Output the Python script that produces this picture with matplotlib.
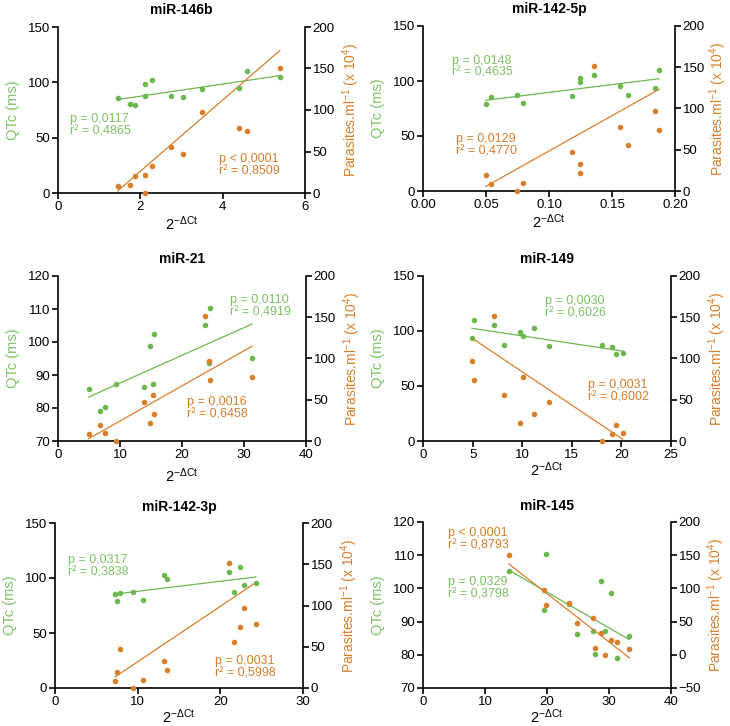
import numpy as np
import matplotlib
matplotlib.use("Agg")
import matplotlib.pyplot as plt

plt.rcParams['font.family'] = ['Liberation Sans', 'DejaVu Sans']
plt.rcParams['mathtext.fontset'] = 'custom'
plt.rcParams['mathtext.rm'] = 'Liberation Sans'
plt.rcParams['mathtext.it'] = 'Liberation Sans'
plt.rcParams['mathtext.bf'] = 'Liberation Sans:bold'

GREEN = '#6cb84f'
GREEN_TXT = '#7dc265'
ORANGE = '#d97f2a'

titles = ['miR-146b', 'miR-142-5p', 'miR-21', 'miR-149', 'miR-142-3p', 'miR-145']

# 2^-dCt per panel (same 12 patients in each panel)
x_146b = [1.45, 1.76, 1.88, 2.11, 2.11, 2.29, 2.75, 3.03, 3.50, 4.40, 4.58, 5.39]
qtc_146b = [85.7, 80.3, 79.1, 87.2, 98.7, 102.3, 87.2, 86.3, 93.6, 95.3, 110.4, 105.2]
par_146b = [8, 10, 20, 0.4, 22, 33, 56, 47.5, 97, 78, 74.5, 151]

x_1425p = [0.0499, 0.0542, 0.0745, 0.0795, 0.1181, 0.1247, 0.1247, 0.1355, 0.1561, 0.1625, 0.1841, 0.1873]
qtc_1425p = [79.1, 85.7, 87.2, 80.3, 86.3, 102.3, 98.7, 105.2, 95.3, 87.2, 93.6, 110.4]
par_1425p = [20, 8, 0.4, 10, 47.5, 33, 22, 151, 78, 56, 97, 74.5]

x_21 = [4.94, 6.77, 7.57, 9.29, 13.85, 14.82, 15.25, 15.46, 23.79, 24.43, 24.54, 31.30]
qtc_21 = [85.7, 79.1, 80.3, 87.2, 86.3, 98.7, 87.2, 102.3, 105.2, 93.6, 110.4, 95.3]
par_21 = [8, 20, 10, 0.4, 47.5, 22, 56, 33, 151, 97, 74.5, 78]

x_149 = [4.93, 5.10, 7.18, 8.19, 9.80, 10.13, 11.21, 12.68, 18.09, 19.06, 19.50, 20.13]
qtc_149 = [93.6, 110.4, 105.2, 87.2, 98.7, 95.3, 102.3, 86.3, 87.2, 85.7, 79.1, 80.3]
par_149 = [97, 74.5, 151, 56, 22, 78, 33, 47.5, 0.4, 8, 20, 10]

x_1423p = [7.29, 7.49, 7.85, 9.42, 10.67, 13.21, 13.53, 21.06, 21.63, 22.43, 22.92, 24.29]
qtc_1423p = [85.7, 79.1, 86.3, 87.2, 80.3, 102.3, 98.7, 105.2, 87.2, 110.4, 93.6, 95.3]
par_1423p = [8, 20, 47.5, 0.4, 10, 33, 22, 151, 56, 74.5, 97, 78]

x_145 = [13.85, 19.54, 19.76, 23.62, 24.86, 27.38, 27.76, 28.78, 29.32, 30.28, 31.36, 33.29]
qtc_145 = [105.2, 93.6, 110.4, 95.3, 86.3, 87.2, 80.3, 102.3, 87.2, 98.7, 79.1, 85.7]
par_145 = [151, 97, 74.5, 78, 47.5, 56, 10, 33, 0.4, 22, 20, 8]

stats_qtc = [('p = 0,0117', 'r² = 0,4865'), ('p = 0,0148', 'r² = 0,4635'),
             ('p = 0,0110', 'r² = 0,4919'), ('p = 0,0030', 'r² = 0,6026'),
             ('p = 0,0317', 'r² = 0,3838'), ('p = 0,0329', 'r² = 0,3798')]
stats_par = [('p < 0,0001', 'r² = 0,8509'), ('p = 0,0129', 'r² = 0,4770'),
             ('p = 0,0016', 'r² = 0,6458'), ('p = 0,0031', 'r² = 0,6002'),
             ('p = 0,0031', 'r² = 0,5998'), ('p < 0,0001', 'r² = 0,8793')]

xlims = [(0, 6), (0, 0.20), (0, 40), (0, 25), (0, 30), (0, 40)]
xticks = [[0, 2, 4, 6], [0, 0.05, 0.10, 0.15, 0.20], [0, 10, 20, 30, 40],
          [0, 5, 10, 15, 20, 25], [0, 10, 20, 30], [0, 10, 20, 30, 40]]
xticklabels = [None, ['0.00', '0.05', '0.10', '0.15', '0.20'], None, None, None, None]
ylims_l = [(0, 150), (0, 150), (70, 120), (0, 150), (0, 150), (70, 120)]
yticks_l = [[0, 50, 100, 150], [0, 50, 100, 150], [70, 80, 90, 100, 110, 120],
            [0, 50, 100, 150], [0, 50, 100, 150], [70, 80, 90, 100, 110, 120]]
ylims_r = [(0, 200), (0, 200), (0, 200), (0, 200), (0, 200), (-50, 200)]
yticks_r = [[0, 50, 100, 150, 200]] * 5 + [[-50, 0, 50, 100, 150, 200]]

xs = [x_146b, x_1425p, x_21, x_149, x_1423p, x_145]
qtcs = [qtc_146b, qtc_1425p, qtc_21, qtc_149, qtc_1423p, qtc_145]
pars = [par_146b, par_1425p, par_21, par_149, par_1423p, par_145]

# orange fit line drawn against the left scale in panels whose left axis starts at 0
par_fit_on_left = [True, True, False, True, True, False]

# layout (pixels)
W, H = 730, 726
boxes = [(58, 27, 305, 193), (423, 26, 675, 191),
         (58, 276, 306, 441), (423, 276, 671, 441),
         (55, 523, 303, 688), (423, 522, 671, 688)]
txt_q = [(0.05, 0.41), (0.116, 0.753), (0.694, 0.814), (0.493, 0.812), (0.054, 0.74), (0.10, 0.60)]
txt_p = [(0.652, 0.168), (0.131, 0.275), (0.519, 0.20), (0.664, 0.304), (0.644, 0.125), (0.10, 0.898)]
xlabel_pad = [1, 1, 4, 0, 0, 0]
rlabel_pad = [4, 1.5, 4, 4, 4, 3]

fig = plt.figure(figsize=(W / 100, H / 100), dpi=100)

for i in range(6):
    l, t, r, b = boxes[i]
    ax = fig.add_axes([l / W, 1 - b / H, (r - l) / W, (b - t) / H])
    ax2 = ax.twinx()
    x = np.array(xs[i])
    q = np.array(qtcs[i])
    p = np.array(pars[i])

    ax.set_xlim(*xlims[i])
    ax.set_ylim(*ylims_l[i])
    ax2.set_ylim(*ylims_r[i])
    ax.set_xticks(xticks[i])
    if xticklabels[i] is not None:
        ax.set_xticklabels(xticklabels[i])
    ax.set_yticks(yticks_l[i])
    ax2.set_yticks(yticks_r[i])

    xl = np.array([x.min(), x.max()])
    cq = np.polyfit(x, q, 1)
    cp = np.polyfit(x, p, 1)
    ax.plot(xl, np.polyval(cq, xl), color=GREEN, lw=0.9, zorder=3)
    if par_fit_on_left[i]:
        ax.plot(xl, np.polyval(cp, xl), color=ORANGE, lw=0.9, zorder=3)
    else:
        ax2.plot(xl, np.polyval(cp, xl), color=ORANGE, lw=0.9, zorder=3)

    ax.scatter(x, q, s=16, color=GREEN, linewidths=0, zorder=4, clip_on=False)
    ax2.scatter(x, p, s=16, color=ORANGE, linewidths=0, zorder=4, clip_on=False)

    for a in (ax, ax2):
        a.spines['top'].set_visible(False)
        for s in ('left', 'right', 'bottom'):
            a.spines[s].set_linewidth(1.2)
        a.tick_params(width=1.2, length=4, labelsize=9.5, colors='black', pad=1.5)
    ax.spines['right'].set_visible(False)
    ax2.spines['left'].set_visible(False)
    ax2.spines['bottom'].set_visible(False)

    ax.set_title(titles[i], fontsize=10, fontweight='bold', pad=9)
    ax.set_ylabel('QTc (ms)', color=GREEN_TXT, fontsize=10.5, labelpad=6)
    ax2.set_ylabel(r'Parasites.ml$^{\mathrm{-1}}$ (x 10$^{\mathrm{4}}$)', color=ORANGE,
                   fontsize=10, labelpad=rlabel_pad[i])
    ax.set_xlabel(r'2$^{\mathrm{-\Delta Ct}}$', fontsize=10.5, labelpad=xlabel_pad[i])

    ax.text(txt_q[i][0], txt_q[i][1], stats_qtc[i][0] + '\n' + stats_qtc[i][1],
            transform=ax.transAxes, color=GREEN_TXT, fontsize=9, va='center',
            ha='left', linespacing=1.05)
    ax.text(txt_p[i][0], txt_p[i][1], stats_par[i][0] + '\n' + stats_par[i][1],
            transform=ax.transAxes, color=ORANGE, fontsize=9, va='center',
            ha='left', linespacing=1.05)

fig.savefig('out.png', dpi=100)
